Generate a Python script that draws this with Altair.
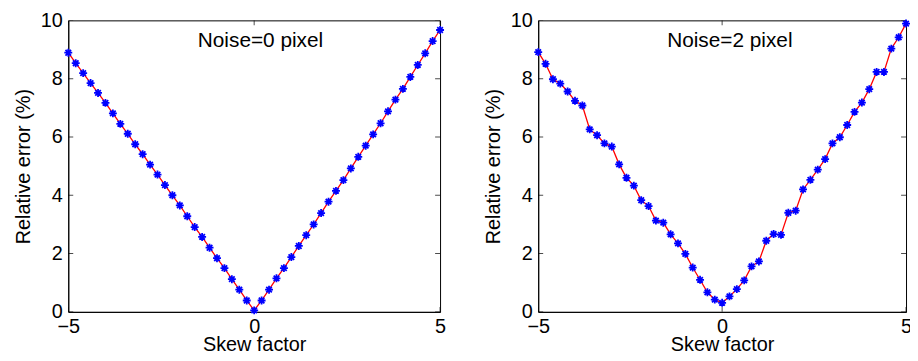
import altair as alt
import pandas as pd

# ---- data ----
skew = [-5.0, -4.8, -4.6, -4.4, -4.2, -4.0, -3.8, -3.6, -3.4, -3.2, -3.0,
        -2.8, -2.6, -2.4, -2.2, -2.0, -1.8, -1.6, -1.4, -1.2, -1.0,
        -0.8, -0.6, -0.4, -0.2, 0.0, 0.2, 0.4, 0.6, 0.8, 1.0,
        1.2, 1.4, 1.6, 1.8, 2.0, 2.2, 2.4, 2.6, 2.8, 3.0,
        3.2, 3.4, 3.6, 3.8, 4.0, 4.2, 4.4, 4.6, 4.8, 5.0]

err_noise0 = [8.89, 8.53, 8.19, 7.85, 7.51, 7.17, 6.81, 6.45, 6.11, 5.75, 5.41,
              5.05, 4.71, 4.35, 4.00, 3.65, 3.28, 2.91, 2.57, 2.20, 1.84,
              1.50, 1.12, 0.76, 0.39, 0.05, 0.39, 0.76, 1.15, 1.50, 1.88,
              2.26, 2.63, 3.00, 3.39, 3.78, 4.15, 4.52, 4.92, 5.32, 5.70,
              6.09, 6.47, 6.88, 7.28, 7.65, 8.06, 8.47, 8.87, 9.29, 9.67]

err_noise2 = [8.91, 8.51, 7.98, 7.83, 7.56, 7.24, 7.08, 6.26, 6.06, 5.78, 5.67,
              5.06, 4.60, 4.33, 3.83, 3.63, 3.13, 3.06, 2.66, 2.35, 1.99,
              1.52, 1.10, 0.67, 0.42, 0.31, 0.53, 0.78, 1.08, 1.56, 1.73,
              2.44, 2.67, 2.64, 3.40, 3.47, 4.20, 4.53, 4.88, 5.24, 5.78,
              5.99, 6.41, 6.86, 7.18, 7.64, 8.23, 8.23, 9.03, 9.42, 9.89]

x_ticks = [-5, 0, 5]
y_ticks = [0, 2, 4, 6, 8, 10]
panel_labels = ["Noise=0 pixel", "Noise=2 pixel"]
label_x = [0.17, 0.21]
label_y = [9.1, 9.1]

FONT = "Liberation Sans"
FS = 20
ASTERISK = "M-1,0L1,0M0,-1L0,1M-0.7,-0.7L0.7,0.7M-0.7,0.7L0.7,-0.7"


def panel(values, label, lx, ly, width, height):
    df = pd.DataFrame({"skew": skew, "err": values})
    xs = alt.Scale(domain=[-5, 5], nice=False, zero=False)
    ys = alt.Scale(domain=[0, 10], nice=False, zero=False)
    x = alt.X("skew:Q", scale=xs,
              axis=alt.Axis(values=x_ticks, title="Skew factor", tickSize=0,
                            labelPadding=5, titlePadding=-2, grid=False,
                            labelFlush=False))
    y = alt.Y("err:Q", scale=ys,
              axis=alt.Axis(values=y_ticks, title="Relative error (%)", tickSize=0,
                            labelPadding=6, titlePadding=7, grid=False))

    base = alt.Chart(df)
    line = base.mark_line(color="#ff0000", strokeWidth=1.3).encode(x=x, y=y)
    pts = base.mark_point(shape=ASTERISK, color="#0000ff", filled=False,
                          size=64, strokeWidth=1.8, opacity=1).encode(x=x, y=y)

    tdf = pd.DataFrame({"lx": [lx], "ly": [ly], "t": [label]})
    txt = alt.Chart(tdf).mark_text(font=FONT, fontSize=21, align="center",
                                   baseline="alphabetic", color="black").encode(
        x=alt.X("lx:Q", scale=xs), y=alt.Y("ly:Q", scale=ys), text="t:N")

    xt = pd.DataFrame({"skew": x_ticks})
    yt = pd.DataFrame({"err": y_ticks})
    tick_bottom = alt.Chart(xt).mark_tick(color="black", thickness=1, size=10, clip=True).encode(
        x=alt.X("skew:Q", scale=xs), y=alt.value(height))
    tick_top = alt.Chart(xt).mark_tick(color="black", thickness=1, size=10, clip=True).encode(
        x=alt.X("skew:Q", scale=xs), y=alt.value(0))
    tick_left = alt.Chart(yt).mark_tick(color="black", thickness=1, size=10, clip=True).encode(
        y=alt.Y("err:Q", scale=ys), x=alt.value(0))
    tick_right = alt.Chart(yt).mark_tick(color="black", thickness=1, size=10, clip=True).encode(
        y=alt.Y("err:Q", scale=ys), x=alt.value(width))

    return alt.layer(tick_bottom, tick_top, tick_left, tick_right, line, pts, txt).properties(
        width=width, height=height)


left = panel(err_noise0, panel_labels[0], label_x[0], label_y[0], 375, 294)
right = panel(err_noise2, panel_labels[1], label_x[1], label_y[1], 371, 294)

chart = alt.hconcat(left, right, spacing=34).properties(
    padding={"left": 4.8, "top": 0, "right": -5, "bottom": -6}
).configure(
    background="white"
).configure_view(
    stroke="black", strokeWidth=1
).configure_axis(
    labelFont=FONT, titleFont=FONT, labelFontSize=FS, titleFontSize=FS,
    labelColor="black", titleColor="black", titleFontWeight="normal",
    domainColor="black", domainWidth=1
)

chart.save("out.html", embed_options={"renderer": "svg", "actions": False})
